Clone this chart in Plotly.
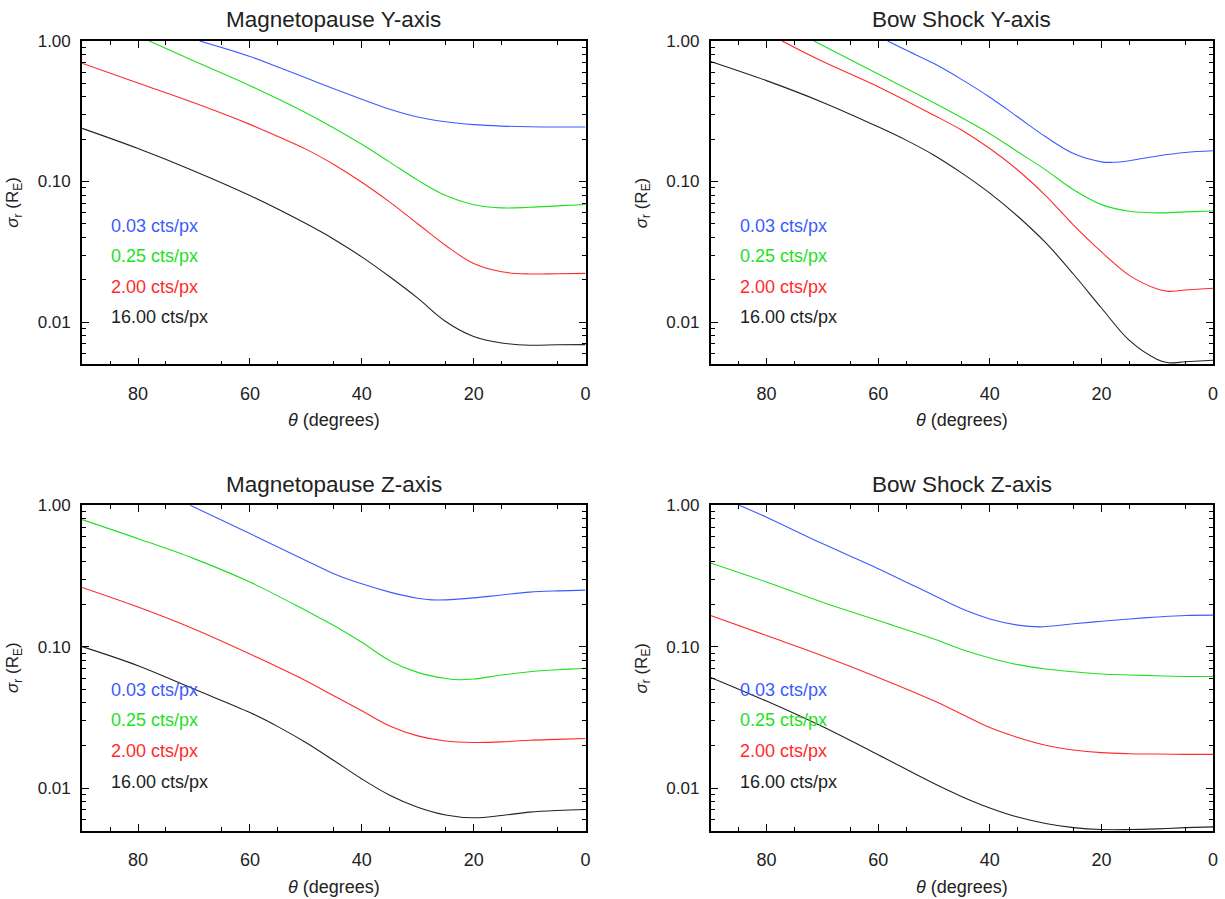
import math
import plotly.graph_objects as go

# ---------------- data (theta in degrees, sigma_r in R_E) ----------------
LABELS = ["0.03 cts/px", "0.25 cts/px", "2.00 cts/px", "16.00 cts/px"]
COLORS = ["#3a5cff", "#1fe01f", "#ff2a2a", "#222222"]
PANEL_TITLES = ["Magnetopause Y-axis", "Bow Shock Y-axis", "Magnetopause Z-axis", "Bow Shock Z-axis"]

# Magnetopause Y-axis
MPY_T_BLUE = [69, 60, 55, 50, 45, 40, 35, 30, 25, 20, 15, 10, 5, 0]
MPY_V_BLUE = [1.0, 0.776, 0.653, 0.547, 0.457, 0.385, 0.327, 0.288, 0.266, 0.254, 0.248, 0.245, 0.244, 0.244]
MPY_T_GREEN = [78, 70, 60, 50, 40, 35, 30, 25, 20, 15, 10, 5, 0]
MPY_V_GREEN = [1.0, 0.719, 0.481, 0.309, 0.184, 0.1374, 0.1023, 0.0794, 0.0684, 0.0649, 0.0656, 0.0671, 0.0687]
MPY_T_RED = [90, 80, 70, 60, 55, 50, 45, 40, 35, 30, 25, 20, 15, 10, 5, 0]
MPY_V_RED = [0.695, 0.502, 0.363, 0.255, 0.209, 0.170, 0.132, 0.0987, 0.0713, 0.0501, 0.0351, 0.0261, 0.0228, 0.022, 0.0221, 0.0222]
MPY_T_BLACK = [90, 80, 70, 60, 50, 45, 40, 35, 30, 25, 20, 15, 10, 5, 0]
MPY_V_BLACK = [0.239, 0.1718, 0.119, 0.0795, 0.0502, 0.0389, 0.0291, 0.021, 0.0148, 0.0101, 0.0079, 0.00711, 0.00685, 0.0069, 0.00692]

# Bow Shock Y-axis
BSY_T_BLUE = [58.3, 55, 50, 45, 40, 35, 30, 25, 20, 18, 15, 10, 5, 0]
BSY_V_BLUE = [1.0, 0.861, 0.69, 0.531, 0.398, 0.288, 0.208, 0.158, 0.138, 0.137, 0.1407, 0.152, 0.161, 0.1655]
BSY_T_GREEN = [71.5, 60, 50, 40, 35, 30, 25, 20, 15, 10, 5, 0]
BSY_V_GREEN = [1.0, 0.582, 0.363, 0.219, 0.163, 0.121, 0.0873, 0.0685, 0.0614, 0.0598, 0.0608, 0.0617]
BSY_T_RED = [77.2, 70, 60, 50, 45, 40, 35, 30, 25, 20, 15, 10, 8, 5, 0]
BSY_V_RED = [1.0, 0.716, 0.473, 0.296, 0.2317, 0.1718, 0.1208, 0.0794, 0.049, 0.0316, 0.0215, 0.0172, 0.01655, 0.0169, 0.0174]
BSY_T_BLACK = [90, 80, 70, 60, 55, 50, 45, 40, 35, 30, 25, 20, 15, 10, 8, 5, 0]
BSY_V_BLACK = [0.715, 0.522, 0.367, 0.245, 0.197, 0.154, 0.1148, 0.0827, 0.0566, 0.0367, 0.0219, 0.0126, 0.00741, 0.00543, 0.00514, 0.00522, 0.00536]

# Magnetopause Z-axis
MPZ_T_BLUE = [70.7, 60, 50, 45, 40, 35, 30, 27.5, 25, 20, 15, 10, 5, 0]
MPZ_V_BLUE = [1.0, 0.63, 0.407, 0.328, 0.278, 0.243, 0.220, 0.214, 0.214, 0.221, 0.232, 0.243, 0.248, 0.251]
MPZ_T_GREEN = [90, 80, 70, 60, 50, 45, 40, 35, 30, 25, 22.5, 20, 15, 10, 5, 0]
MPZ_V_GREEN = [0.791, 0.58, 0.419, 0.286, 0.18, 0.141, 0.1073, 0.0796, 0.0658, 0.0596, 0.0583, 0.059, 0.063, 0.0665, 0.0687, 0.0702]
MPZ_T_RED = [90, 80, 70, 60, 50, 45, 40, 35, 30, 25, 20, 15, 10, 5, 0]
MPZ_V_RED = [0.262, 0.1905, 0.1334, 0.0887, 0.0574, 0.0449, 0.0352, 0.0275, 0.0234, 0.0215, 0.021, 0.0212, 0.0218, 0.0221, 0.0224]
MPZ_T_BLACK = [90, 80, 70, 60, 55, 50, 45, 40, 35, 30, 25, 20, 15, 10, 5, 0]
MPZ_V_BLACK = [0.1, 0.0733, 0.0501, 0.0342, 0.0272, 0.021, 0.01567, 0.01161, 0.00891, 0.00733, 0.00646, 0.00617, 0.0064, 0.00676, 0.00695, 0.00706]

# Bow Shock Z-axis
BSZ_T_BLUE = [84.9, 80, 70, 60, 50, 45, 40, 35, 31, 25, 20, 15, 10, 5, 0]
BSZ_V_BLUE = [1.0, 0.822, 0.535, 0.356, 0.23, 0.185, 0.157, 0.142, 0.138, 0.145, 0.151, 0.157, 0.162, 0.166, 0.167]
BSZ_T_GREEN = [90, 80, 70, 60, 50, 45, 40, 35, 30, 25, 20, 15, 10, 5, 0]
BSZ_V_GREEN = [0.39, 0.286, 0.206, 0.153, 0.1133, 0.0955, 0.0832, 0.0746, 0.0695, 0.0664, 0.064, 0.063, 0.0622, 0.0615, 0.0615]
BSZ_T_RED = [90, 80, 70, 60, 50, 45, 40, 35, 30, 25, 20, 15, 10, 5, 0]
BSZ_V_RED = [0.166, 0.1197, 0.0863, 0.0606, 0.0414, 0.0333, 0.0268, 0.0228, 0.0201, 0.0186, 0.0178, 0.0175, 0.0174, 0.0173, 0.0173]
BSZ_T_BLACK = [90, 80, 70, 60, 50, 45, 40, 35, 30, 25, 20, 15, 10, 5, 0]
BSZ_V_BLACK = [0.0606, 0.0412, 0.0272, 0.0172, 0.01076, 0.0087, 0.00724, 0.00624, 0.00562, 0.00525, 0.00509, 0.00509, 0.00515, 0.00525, 0.00532]

X_TICKS = [80, 60, 40, 20, 0]
X_MINOR = [85, 75, 65, 55, 45, 35, 25, 15, 5]
Y_TICKS = [0.01, 0.1, 1.0]
Y_TICKTEXT = ["0.01", "0.10", "1.00"]
Y_MINOR = [0.006, 0.007, 0.008, 0.009, 0.02, 0.03, 0.04, 0.05, 0.06, 0.07, 0.08, 0.09,
           0.2, 0.3, 0.4, 0.5, 0.6, 0.7, 0.8, 0.9]
Y_RANGE = [0.005, 1.0]
X_RANGE = [90, 0]

panels = [
    [(MPY_T_BLUE, MPY_V_BLUE), (MPY_T_GREEN, MPY_V_GREEN), (MPY_T_RED, MPY_V_RED), (MPY_T_BLACK, MPY_V_BLACK)],
    [(BSY_T_BLUE, BSY_V_BLUE), (BSY_T_GREEN, BSY_V_GREEN), (BSY_T_RED, BSY_V_RED), (BSY_T_BLACK, BSY_V_BLACK)],
    [(MPZ_T_BLUE, MPZ_V_BLUE), (MPZ_T_GREEN, MPZ_V_GREEN), (MPZ_T_RED, MPZ_V_RED), (MPZ_T_BLACK, MPZ_V_BLACK)],
    [(BSZ_T_BLUE, BSZ_V_BLUE), (BSZ_T_GREEN, BSZ_V_GREEN), (BSZ_T_RED, BSZ_V_RED), (BSZ_T_BLACK, BSZ_V_BLACK)],
]

# ---------------- layout geometry ----------------
# Target positions are given in pixels of the final 1225 x 899 picture; the page
# shows the figure 8 px down and very slightly scaled, which these maps undo.
W, H = 1225, 899
TOP_OFF, SX, SY = 8, 0.995, 0.9916
FONT = "Liberation Sans, Arial, Helvetica, sans-serif"
TXT = "#222222"
x_dom_px = [(82, 585), (710, 1212)]
y_dom_px = [(40, 364), (505, 831)]
LEG_OFF_PX = [185, 215, 246, 277]   # label centres below the panel top


def px(page_x):
    return (page_x / SX) / W


def py(page_y):
    return 1 - ((page_y - TOP_OFF) / SY) / H


fig = go.Figure()
layout = dict(width=W, height=H, margin=dict(l=0, r=0, t=0, b=0, pad=0),
              paper_bgcolor="white", plot_bgcolor="white", showlegend=False,
              font=dict(family=FONT, size=17, color=TXT))
annotations = []

for i, series in enumerate(panels):
    row, col = divmod(i, 2)
    xs = "" if i == 0 else str(i + 1)
    xd = x_dom_px[col]
    yd = y_dom_px[row]
    layout["xaxis" + xs] = dict(
        domain=[px(xd[0]), px(xd[1])], anchor="y" + xs, range=X_RANGE, tickmode="array", tickvals=X_TICKS,
        ticks="inside", ticklen=7, tickwidth=1.4, tickcolor="black",
        showline=True, linewidth=1.8, linecolor="black", mirror="ticks",
        showgrid=False, zeroline=False, ticklabelstandoff=12,
        tickfont=dict(size=18, color=TXT, family=FONT),
        minor=dict(tickmode="array", tickvals=X_MINOR, ticks="inside", ticklen=4,
                   tickwidth=1.2, tickcolor="black", showgrid=False))
    layout["yaxis" + xs] = dict(
        domain=[py(yd[1]), py(yd[0])], anchor="x" + xs, type="log",
        range=[math.log10(Y_RANGE[0]), math.log10(Y_RANGE[1])],
        tickmode="array", tickvals=Y_TICKS, ticktext=Y_TICKTEXT,
        ticks="inside", ticklen=7, tickwidth=1.4, tickcolor="black",
        showline=True, linewidth=1.8, linecolor="black", mirror="ticks",
        showgrid=False, zeroline=False, ticklabelstandoff=6,
        tickfont=dict(size=17, color=TXT, family=FONT),
        minor=dict(tickmode="array", tickvals=Y_MINOR, ticks="inside", ticklen=4,
                   tickwidth=1.2, tickcolor="black", showgrid=False))
    for (t, v), c in zip(series, COLORS):
        fig.add_trace(go.Scatter(x=t, y=v, mode="lines", xaxis="x" + xs, yaxis="y" + xs,
                                 line=dict(color=c, width=1.1, shape="spline", smoothing=1.0),
                                 hoverinfo="skip"))
    xc = px((xd[0] + xd[1]) / 2)
    yc_page = (yd[0] + yd[1]) / 2
    annotations.append(dict(text=PANEL_TITLES[i], x=xc, y=py(yd[0] - 21), xref="paper", yref="paper",
                            showarrow=False, xanchor="center", yanchor="middle",
                            font=dict(size=22.5, color=TXT, family=FONT)))
    annotations.append(dict(text="<i>θ</i> (degrees)", x=xc, y=py(yd[1] + 56), xref="paper", yref="paper",
                            showarrow=False, xanchor="center", yanchor="middle",
                            font=dict(size=18, color=TXT, family=FONT)))
    annotations.append(dict(text="<i>σ</i><sub>r</sub> (R<sub>E</sub>)", x=px(xd[0] - 68), y=py(yc_page),
                            xref="paper", yref="paper", textangle=-90,
                            showarrow=False, xanchor="center", yanchor="middle",
                            font=dict(size=17, color=TXT, family=FONT)))
    for lab, c, off in zip(LABELS, COLORS, LEG_OFF_PX):
        annotations.append(dict(text=lab, x=px(xd[0] + 27), y=py(yd[0] + off),
                                xref="paper", yref="paper",
                                showarrow=False, xanchor="left", yanchor="middle",
                                font=dict(size=18, color=c, family=FONT)))

layout["annotations"] = annotations
fig.update_layout(**layout)
fig.write_html("out.html")
